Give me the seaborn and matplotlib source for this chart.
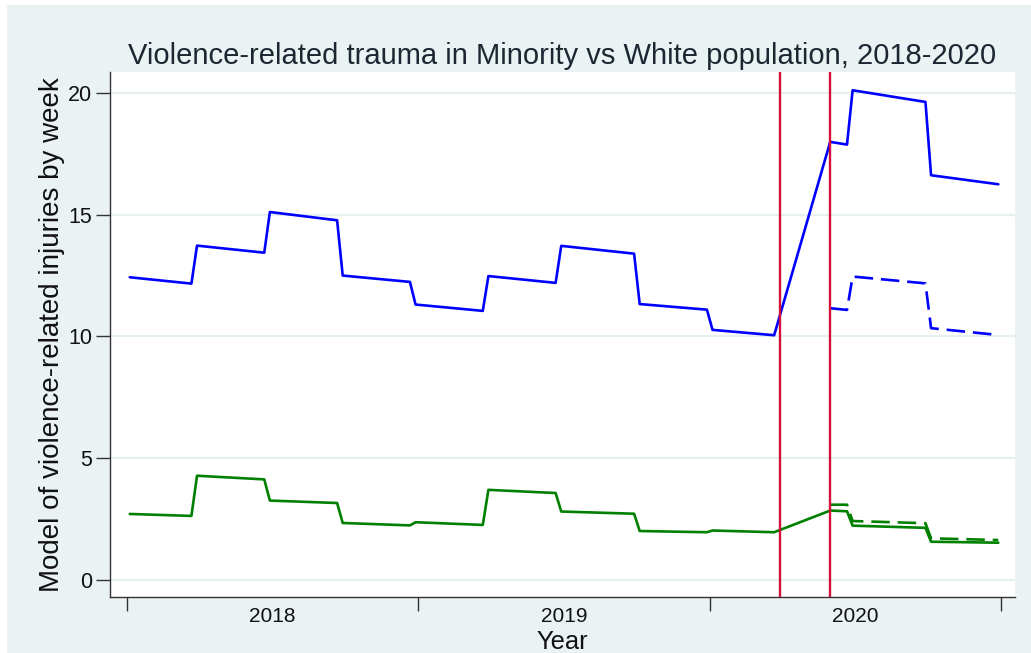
import pandas as pd
import numpy as np
import matplotlib.pyplot as plt
import seaborn as sns
from matplotlib.patches import Rectangle

# weekly index (1 = first week of 2018), read at the corners of the fitted model
weeks_obs = [1, 12, 13, 25, 26, 38, 39, 51, 52, 64, 65, 77, 78, 91, 92, 104, 105, 116,
             126, 129, 130, 143, 144, 156]
minority_obs = [12.43, 12.17, 13.73, 13.44, 15.11, 14.77, 12.50, 12.24, 11.31, 11.05,
                12.48, 12.20, 13.72, 13.40, 11.33, 11.10, 10.27, 10.05,
                17.99, 17.88, 20.11, 19.63, 16.62, 16.25]
white_obs = [2.71, 2.63, 4.28, 4.13, 3.26, 3.16, 2.34, 2.24, 2.37, 2.26,
             3.70, 3.57, 2.81, 2.72, 2.01, 1.96, 2.03, 1.96,
             2.85, 2.82, 2.23, 2.14, 1.57, 1.53]

# counterfactual (no interruption) after the second break
weeks_cf = [126, 129, 130, 143, 144, 156]
minority_cf = [11.16, 11.09, 12.46, 12.18, 10.34, 10.06]
white_cf = [3.09, 3.09, 2.42, 2.33, 1.71, 1.64]

breaks = [117, 126]
year_labels = ['2018', '2019', '2020']
year_edges = [0.5, 52.5, 104.5, 156.5]
year_mids = [26.5, 78.5, 130.5]

parts = [('Minority', 'Observed', weeks_obs, minority_obs),
         ('White', 'Observed', weeks_obs, white_obs),
         ('Minority', 'Counterfactual', weeks_cf, minority_cf),
         ('White', 'Counterfactual', weeks_cf, white_cf)]
df = pd.concat([pd.DataFrame({'week': w, 'value': v, 'group': g, 'kind': k})
                for g, k, w, v in parts], ignore_index=True)

sns.set_style("white")
plt.rcParams['font.family'] = ['Liberation Sans', 'DejaVu Sans']

fig = plt.figure(figsize=(10.31, 6.53), dpi=100, facecolor='white')
fig.patches.append(Rectangle((7 / 1031, 0), 1, 1 - 5 / 653, transform=fig.transFigure,
                             facecolor='#EAF2F3', edgecolor='none', zorder=-10))
ax = fig.add_axes([110 / 1031, 1 - 597 / 653, 905 / 1031, 525 / 653])
ax.set_facecolor('white')

sns.lineplot(data=df, x='week', y='value', hue='group', style='kind',
             palette={'Minority': '#0000FF', 'White': '#008000'},
             dashes={'Observed': '', 'Counterfactual': (7, 3)},
             estimator=None, lw=1.9, legend=False, ax=ax)

for b in breaks:
    ax.axvline(b, color='#D3123C', lw=1.7, zorder=3)

ax.set_xlim(-2.53, 158.98)
ax.set_ylim(-0.70, 20.86)
ax.set_yticks([0, 5, 10, 15, 20])
ax.yaxis.grid(True, color='#E6EFF1', lw=1.6)
ax.xaxis.grid(False)
ax.set_axisbelow(True)

ax.set_xticks(year_edges)
ax.set_xticklabels([])
ax.set_xticks(year_mids, minor=True)
ax.set_xticklabels(year_labels, minor=True)
ax.tick_params(axis='x', which='major', length=10, width=1, color='#333333', direction='out', bottom=True)
ax.tick_params(axis='x', which='minor', length=0, pad=7, labelsize=15, labelcolor='#111111')
ax.tick_params(axis='y', length=10, width=1, color='#333333', direction='out', left=True,
               labelsize=15.5, labelcolor='#111111', pad=3)

ax.spines[['top', 'right']].set_visible(False)
for s in ['left', 'bottom']:
    ax.spines[s].set_color('#333333')
    ax.spines[s].set_linewidth(1)

ax.set_title('Violence-related trauma in Minority vs White population, 2018-2020',
             fontsize=21, color='#1C2733', pad=6)
ax.set_ylabel('Model of violence-related injuries by week', fontsize=20, color='#111111')
ax.yaxis.set_label_coords(-0.05, 0.5)
ax.set_xlabel('Year', fontsize=18.4, color='#111111', labelpad=3)

fig.savefig('out.png', dpi=100)
